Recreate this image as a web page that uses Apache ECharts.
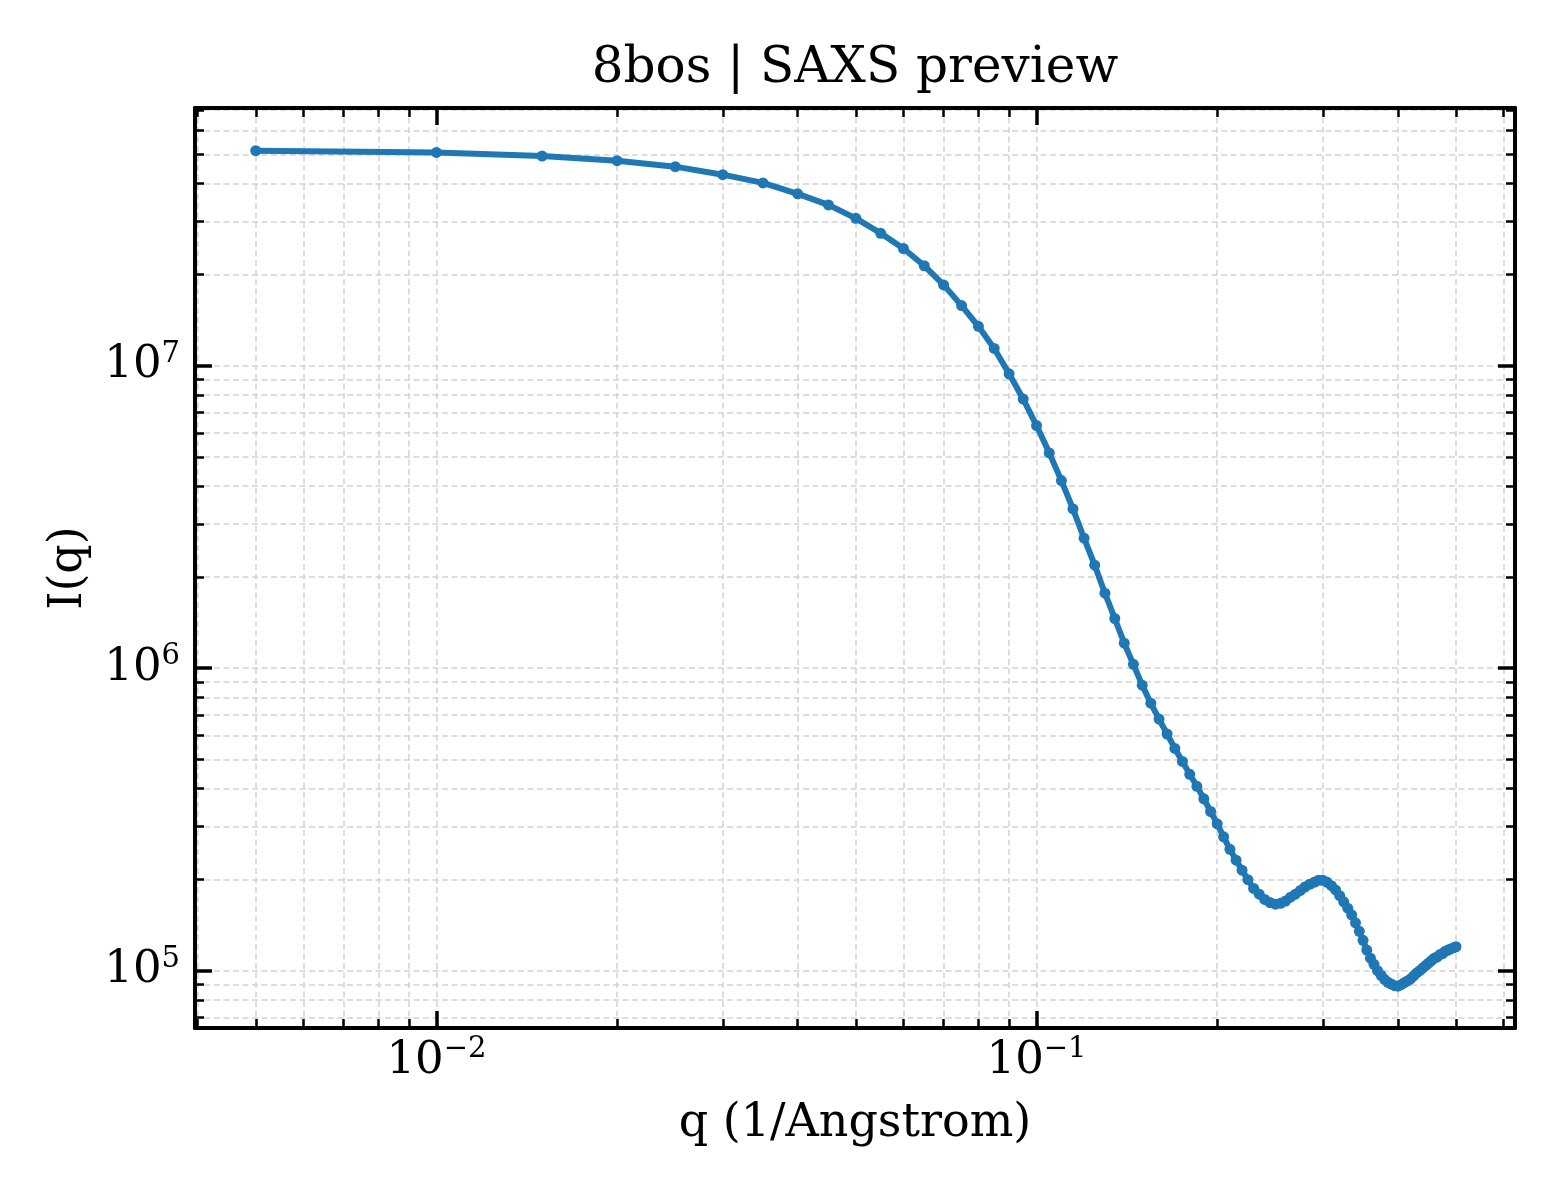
<!DOCTYPE html>
<html>
<head>
<meta charset="utf-8">
<title>8bos | SAXS preview</title>
<script src="https://cdn.jsdelivr.net/npm/echarts@6/dist/echarts.min.js"></script>
<style>
html, body { margin: 0; padding: 0; background: #fff; }
#chart { width: 1560px; height: 1200px; }
</style>
</head>
<body>
<div id="chart"></div>
<script>
// scattering vector q (1/Angstrom)
var qValues = [
    0.005, 0.010, 0.015, 0.020, 0.025, 0.030, 0.035, 0.040, 0.045, 0.050,
    0.055, 0.060, 0.065, 0.070, 0.075, 0.080, 0.085, 0.090, 0.095, 0.100,
    0.105, 0.110, 0.115, 0.120, 0.125, 0.130, 0.135, 0.140, 0.145, 0.150,
    0.155, 0.160, 0.165, 0.170, 0.175, 0.180, 0.185, 0.190, 0.195, 0.200,
    0.205, 0.210, 0.215, 0.220, 0.225, 0.230, 0.235, 0.240, 0.245, 0.250,
    0.255, 0.260, 0.265, 0.270, 0.275, 0.280, 0.285, 0.290, 0.295, 0.300,
    0.305, 0.310, 0.315, 0.320, 0.325, 0.330, 0.335, 0.340, 0.345, 0.350,
    0.355, 0.360, 0.365, 0.370, 0.375, 0.380, 0.385, 0.390, 0.395, 0.400,
    0.405, 0.410, 0.415, 0.420, 0.425, 0.430, 0.435, 0.440, 0.445, 0.450,
    0.455, 0.460, 0.465, 0.470, 0.475, 0.480, 0.485, 0.490, 0.495, 0.500
];

// intensity I(q)
var intensity = [
    5.14e7, 5.07e7, 4.93e7, 4.76e7, 4.55e7, 4.28e7, 4.02e7, 3.70e7, 3.40e7, 3.07e7,
    2.74e7, 2.44e7, 2.14e7, 1.85e7, 1.58e7, 1.35e7, 1.14e7, 9.40e6, 7.76e6, 6.34e6,
    5.15e6, 4.17e6, 3.36e6, 2.69e6, 2.19e6, 1.77e6, 1.46e6, 1.21e6, 1.03e6, 8.79e5,
    7.66e5, 6.79e5, 6.06e5, 5.43e5, 4.92e5, 4.46e5, 4.07e5, 3.70e5, 3.36e5, 3.06e5,
    2.77e5, 2.52e5, 2.32e5, 2.15e5, 2.00e5, 1.87e5, 1.79e5, 1.72e5, 1.68e5, 1.66e5,
    1.67e5, 1.70e5, 1.75e5, 1.79e5, 1.84e5, 1.89e5, 1.93e5, 1.96e5, 1.99e5, 1.99e5,
    1.96e5, 1.91e5, 1.85e5, 1.77e5, 1.69e5, 1.61e5, 1.53e5, 1.44e5, 1.35e5, 1.26e5,
    1.17e5, 1.10e5, 1.05e5, 1.00e5, 9.66e4, 9.37e4, 9.16e4, 9.03e4, 8.92e4, 8.89e4,
    8.99e4, 9.13e4, 9.25e4, 9.39e4, 9.61e4, 9.83e4, 1.00e5, 1.02e5, 1.04e5, 1.06e5,
    1.08e5, 1.10e5, 1.11e5, 1.13e5, 1.14e5, 1.16e5, 1.17e5, 1.18e5, 1.19e5, 1.20e5
];

var qRange = [0.00396, 0.627];
var iRange = [64660, 7.11e7];

var serif = 'DejaVu Serif';
var gridLine = { color: '#d2d2d2', width: 1.5, type: [6, 3.5] };

// 10^n tick labels with a raised exponent
function powLabel(v) {
    var e = Math.round(Math.log10(v));
    return '{b|10}{s|' + (e < 0 ? '\u2212' : '') + Math.abs(e) + '}';
}

var labelRich = {
    b: { fontFamily: serif, fontSize: 45, lineHeight: 52, color: '#000' },
    s: { fontFamily: serif, fontSize: 29, lineHeight: 29, verticalAlign: 'top', color: '#000' }
};

function logAxis(position, range, withLabels) {
    return {
        type: 'log',
        logBase: 10,
        position: position,
        min: range[0],
        max: range[1],
        axisLine: { show: true, onZero: false, lineStyle: { color: '#000', width: 4 } },
        axisTick: { show: true, inside: true, length: 17, lineStyle: { color: '#000', width: 3.5 } },
        minorTick: { show: true, splitNumber: 9, length: 9, lineStyle: { color: '#000', width: 2.5 } },
        axisLabel: {
            show: withLabels,
            showMinLabel: false,
            showMaxLabel: false,
            formatter: powLabel,
            rich: labelRich,
            margin: position === 'bottom' ? 7 : 15
        },
        splitLine: { show: withLabels, lineStyle: gridLine },
        minorSplitLine: { show: withLabels, lineStyle: gridLine }
    };
}

var xMain = logAxis('bottom', qRange, true);
xMain.name = 'q (1/Angstrom)';
xMain.nameLocation = 'middle';
xMain.nameGap = 73;
xMain.nameTextStyle = { fontFamily: serif, fontSize: 46, color: '#000' };

var yMain = logAxis('left', iRange, true);
yMain.name = 'I(q)';
yMain.nameLocation = 'middle';
yMain.nameGap = 103;
yMain.nameTextStyle = { fontFamily: serif, fontSize: 46, color: '#000' };

var chart = echarts.init(document.getElementById('chart'), null, { renderer: 'canvas' });

chart.setOption({
    backgroundColor: '#fff',
    animation: false,
    title: {
        text: '8bos | SAXS preview',
        left: 855,
        top: 44,
        padding: 0,
        textAlign: 'center',
        textStyle: { fontFamily: serif, fontSize: 50, fontWeight: 'normal', color: '#000' }
    },
    grid: { left: 195, top: 108, width: 1320, height: 920, containLabel: false },
    xAxis: [xMain, logAxis('top', qRange, false)],
    yAxis: [yMain, logAxis('right', iRange, false)],
    series: [{
        type: 'line',
        xAxisIndex: 0,
        yAxisIndex: 0,
        data: qValues.map(function (q, i) { return [q, intensity[i]]; }),
        symbol: 'circle',
        symbolSize: 11,
        showSymbol: true,
        showAllSymbol: true,
        itemStyle: { color: '#1f77b4' },
        lineStyle: { color: '#1f77b4', width: 6 },
        emphasis: { disabled: true }
    }]
});
</script>
</body>
</html>
